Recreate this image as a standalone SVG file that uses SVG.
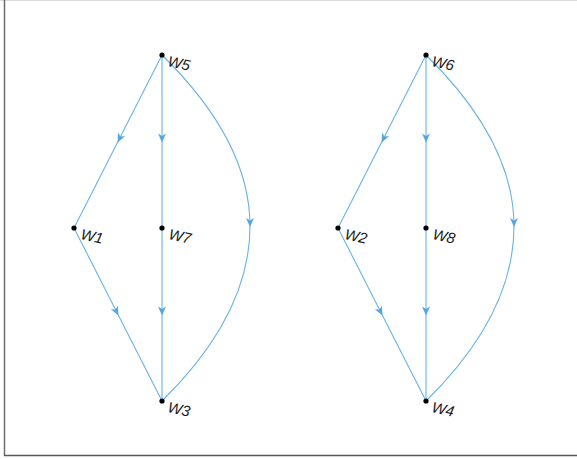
<svg xmlns="http://www.w3.org/2000/svg" width="577" height="459" viewBox="0 0 577 459">
<style>
.e{fill:none;stroke:#6AB2E2;stroke-width:1.1}
.n{fill:#000}
.t{font-family:"Liberation Sans",Arial,sans-serif;font-size:15px;font-style:italic;fill:#1a1a1a}
</style>
<defs>
<marker id="a" viewBox="-10 -5 12 10" markerWidth="12" markerHeight="10" refX="0" refY="0" orient="auto" markerUnits="userSpaceOnUse">
<path d="M1,0 L-8,-4 L-5.5,0 L-8,4 Z" fill="#55A7DE"/>
</marker>
</defs>
<rect x="0" y="0" width="577" height="459" fill="#fff"/>
<line x1="0" y1="0.5" x2="577" y2="0.5" stroke="#dcdcdc" stroke-width="1"/>
<line x1="4.5" y1="0" x2="4.5" y2="456" stroke="#6e6e6e" stroke-width="1.5"/>
<line x1="4" y1="455.5" x2="577" y2="455.5" stroke="#5a5a5a" stroke-width="1.5"/>
<g id="connectors">
<path class="e" marker-mid="url(#a)" d="M162,55 L118,141.5 L74,228"/>
<path class="e" marker-mid="url(#a)" d="M162,55 L162,141.5 L162,228"/>
<path class="e" marker-mid="url(#a)" d="M162,55 Q250,141.5 250,226 Q250,314.5 162,401"/>
<path class="e" marker-mid="url(#a)" d="M74,228 L118,314.5 L162,401"/>
<path class="e" marker-mid="url(#a)" d="M162,228 L162,314.5 L162,401"/>
<path class="e" marker-mid="url(#a)" d="M426,55 L382,141.5 L338,228"/>
<path class="e" marker-mid="url(#a)" d="M426,55 L426,141.5 L426,228"/>
<path class="e" marker-mid="url(#a)" d="M426,55 Q514,141.5 514,226 Q514,314.5 426,401"/>
<path class="e" marker-mid="url(#a)" d="M338,228 L382,314.5 L426,401"/>
<path class="e" marker-mid="url(#a)" d="M426,228 L426,314.5 L426,401"/>
</g>
<g id="W5"><circle class="n" cx="162" cy="55" r="2.6"/><text class="t" x="167" y="66" transform="rotate(12 167 66)">W5</text></g>
<g id="W1"><circle class="n" cx="74" cy="228" r="2.6"/><text class="t" x="80" y="239" transform="rotate(12 80 239)">W1</text></g>
<g id="W7"><circle class="n" cx="162" cy="228" r="2.6"/><text class="t" x="168" y="239" transform="rotate(12 168 239)">W7</text></g>
<g id="W3"><circle class="n" cx="162" cy="401" r="2.6"/><text class="t" x="167" y="412" transform="rotate(12 167 412)">W3</text></g>
<g id="W6"><circle class="n" cx="426" cy="55" r="2.6"/><text class="t" x="431" y="66" transform="rotate(12 431 66)">W6</text></g>
<g id="W2"><circle class="n" cx="338" cy="228" r="2.6"/><text class="t" x="344" y="239" transform="rotate(12 344 239)">W2</text></g>
<g id="W8"><circle class="n" cx="426" cy="228" r="2.6"/><text class="t" x="432" y="239" transform="rotate(12 432 239)">W8</text></g>
<g id="W4"><circle class="n" cx="426" cy="401" r="2.6"/><text class="t" x="431" y="412" transform="rotate(12 431 412)">W4</text></g>
</svg>
